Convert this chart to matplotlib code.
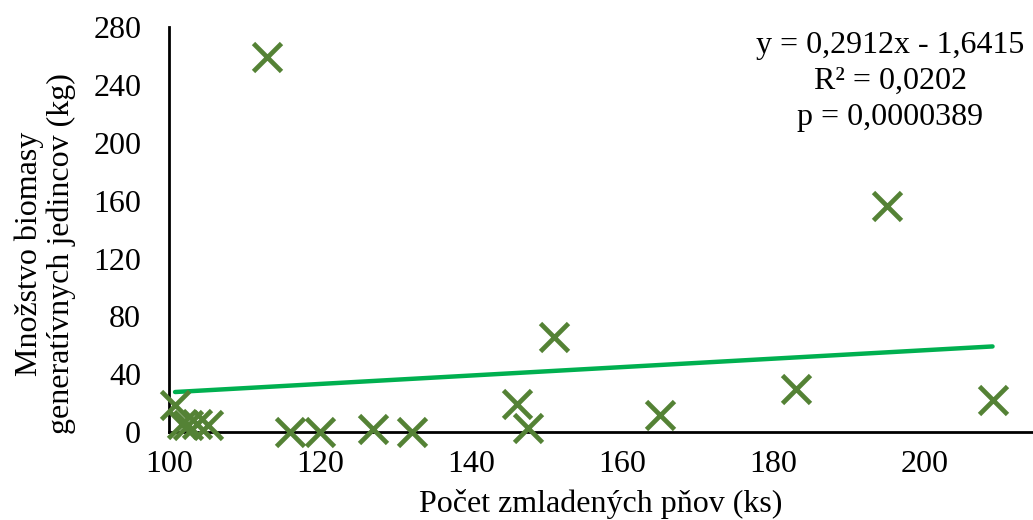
import numpy as np
import matplotlib
matplotlib.use("Agg")
import matplotlib.pyplot as plt

# pocet zmladenych pnov (ks) vs. mnozstvo biomasy (kg)
pocet = [100.8, 101.7, 102.5, 103.7, 105.2, 113.0, 116.0, 120.0, 127.0,
         132.2, 146.0, 147.5, 151.0, 165.0, 183.0, 195.0, 209.0]
biomasa = [18.6, 5.6, 4.8, 5.6, 4.8, 259.0, 0.0, 0.0, 2.5,
           0.0, 19.5, 3.0, 66.0, 12.0, 30.0, 156.0, 22.0]

slope = 0.2912
intercept = -1.6415
eq_lines = ["y = 0,2912x - 1,6415", "R\u00b2 = 0,0202", "p = 0,0000389"]

x_ticks = [100, 120, 140, 160, 180, 200]
y_ticks = [0, 40, 80, 120, 160, 200, 240, 280]

plt.rcParams['font.family'] = ['Liberation Serif', 'DejaVu Serif']

fig = plt.figure(figsize=(10.33, 5.2), dpi=100)
ax = fig.add_axes([0.1636, 0.169, 0.836, 0.779])

ax.plot(pocet, biomasa, linestyle="none", marker="x", markersize=20,
        markeredgewidth=3.4, color="#548235", zorder=3, clip_on=False)

# linear trend from min to max x
xt = np.array([min(pocet), max(pocet)])
ax.plot(xt, slope * xt + intercept, color="#00B050", linewidth=3.2,
        solid_capstyle="round", zorder=2)

ax.set_xlim(100, 214.3)
ax.set_ylim(0, 280)
ax.set_xticks(x_ticks)
ax.set_yticks(y_ticks)
ax.tick_params(length=0, labelsize=23)
ax.tick_params(axis="y", pad=20)
ax.tick_params(axis="x", pad=13)

for s in ["top", "right"]:
    ax.spines[s].set_visible(False)
for s in ["left", "bottom"]:
    ax.spines[s].set_linewidth(2)
    ax.spines[s].set_color("black")
ax.spines["left"].set_zorder(1)

ax.set_xlabel("Počet zmladených pňov (ks)", fontsize=23, labelpad=7)
ax.set_ylabel("Množstvo biomasy\ngeneratívnych jedincov (kg)", fontsize=23,
              linespacing=1.1)
ax.yaxis.set_label_coords(-0.108, 0.44)

ax.text(0.835, 0.99, "\n".join(eq_lines), transform=ax.transAxes,
        ha="center", va="top", fontsize=23, linespacing=1.32)

fig.savefig("out.png", dpi=100)
